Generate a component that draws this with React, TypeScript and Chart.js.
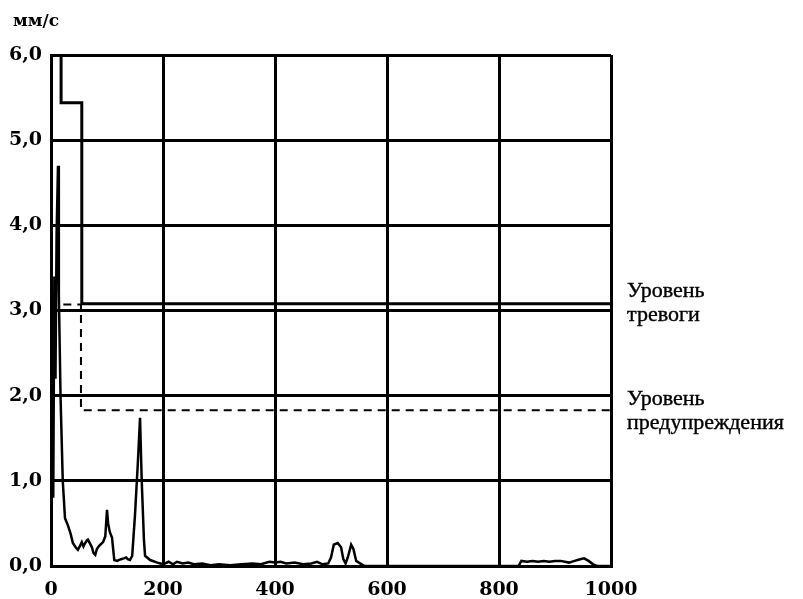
import React, { useEffect, useRef } from "react";
import { Chart, registerables } from "chart.js";

Chart.register(...registerables);

// X axis ticks (Гц) and Y axis ticks (мм/с)
const xTickValues = [0, 200, 400, 600, 800, 1000];
const yTickValues = [0, 1, 2, 3, 4, 5, 6];

// Spectrum curve
const spectrumX = [
  0, 2, 4, 6, 8, 10, 12.5, 14, 17, 21, 25, 30, 35, 39, 44, 48, 52, 55, 58, 61, 64, 66, 70, 73, 76, 79,
  82, 84, 88, 93, 97, 100, 102, 105, 109, 113, 118, 125, 130, 134, 137, 141, 145, 150, 155, 159, 162,
  166, 168, 177, 190, 200, 210, 218, 225, 235, 245, 255, 270, 285, 300, 320, 340, 360, 375, 390, 400,
  410, 420, 435, 450, 465, 475, 485, 495, 500, 505, 512, 518, 522, 526, 530, 536, 540, 545, 552, 560,
  600, 700, 800, 835, 840, 850, 860, 870, 880, 890, 900, 910, 925, 935, 945, 952, 960, 968, 975, 1000,
];
const spectrumY = [
  0.05, 2.9, 0.8, 3.4, 2.2, 3.9, 4.7, 3.2, 2.0, 1.0, 0.56, 0.48, 0.38, 0.27, 0.22, 0.19, 0.24, 0.28,
  0.23, 0.27, 0.3, 0.31, 0.26, 0.22, 0.15, 0.13, 0.2, 0.22, 0.25, 0.28, 0.35, 0.66, 0.5, 0.4, 0.33,
  0.07, 0.06, 0.08, 0.09, 0.1, 0.08, 0.07, 0.12, 0.6, 1.2, 1.74, 1.0, 0.3, 0.12, 0.07, 0.04, 0.02,
  0.05, 0.02, 0.05, 0.03, 0.04, 0.02, 0.03, 0.01, 0.02, 0.01, 0.02, 0.03, 0.02, 0.05, 0.04, 0.05,
  0.03, 0.04, 0.02, 0.03, 0.05, 0.02, 0.03, 0.1, 0.25, 0.27, 0.22, 0.08, 0.03, 0.1, 0.25, 0.2, 0.06,
  0.03, 0.0, 0.0, 0.0, 0.0, 0.0, 0.06, 0.05, 0.06, 0.05, 0.06, 0.05, 0.06, 0.06, 0.04, 0.06, 0.08,
  0.09, 0.06, 0.02, 0.0, 0.0,
];

// Alarm level (solid step line)
const alarmX = [18, 18, 55, 55, 1000];
const alarmY = [6.0, 5.44, 5.44, 3.08, 3.08];

// Warning level (dashed step line)
const warningX = [22, 53.5, 53.5, 1000];
const warningY = [3.07, 3.07, 1.83, 1.83];

const toPoints = (xs: number[], ys: number[]) => xs.map((x, i) => ({ x, y: ys[i] }));

const SERIF = "'Liberation Serif', 'Times New Roman', serif";
const TICK_FONT = "'DejaVu Serif', serif";

export default function App() {
  const canvasRef = useRef<HTMLCanvasElement | null>(null);

  useEffect(() => {
    document.body.style.margin = "0";
    const canvas = canvasRef.current;
    if (!canvas) return;
    const chart = new Chart(canvas, {
      type: "line",
      data: {
        datasets: [
          {
            label: "Спектр",
            data: toPoints(spectrumX, spectrumY),
            borderColor: "#000",
            borderWidth: 2.5,
            pointRadius: 0,
            tension: 0,
            fill: false,
          },
          {
            label: "Уровень тревоги",
            data: toPoints(alarmX, alarmY),
            borderColor: "#000",
            borderWidth: 3,
            pointRadius: 0,
            tension: 0,
            fill: false,
          },
          {
            label: "Уровень предупреждения",
            data: toPoints(warningX, warningY),
            borderColor: "#000",
            borderWidth: 2,
            borderDash: [8, 6],
            pointRadius: 0,
            tension: 0,
            fill: false,
          },
        ],
      },
      options: {
        animation: false,
        responsive: true,
        maintainAspectRatio: false,
        layout: { padding: { top: 55, right: 192, left: 0, bottom: 0 } },
        plugins: {
          legend: { display: false },
          tooltip: { enabled: false },
        },
        scales: {
          x: {
            type: "linear",
            min: 0,
            max: 1000,
            afterFit: (scale: any) => {
              scale.height = 33;
            },
            afterBuildTicks: (scale: any) => {
              scale.ticks = xTickValues.map((v) => ({ value: v }));
            },
            ticks: {
              color: "#000",
              font: { family: TICK_FONT, size: 19, weight: "bold" },
              padding: 13,
              maxRotation: 0,
              autoSkip: false,
              callback: (v: any) => String(v),
            },
            grid: { color: "#000", lineWidth: 3, drawTicks: false },
            border: { color: "#000", width: 3 },
          },
          y: {
            type: "linear",
            min: 0,
            max: 6,
            afterFit: (scale: any) => {
              scale.width = 51;
            },
            afterBuildTicks: (scale: any) => {
              scale.ticks = yTickValues.map((v) => ({ value: v }));
            },
            ticks: {
              color: "#000",
              font: { family: TICK_FONT, size: 19, weight: "bold" },
              padding: 9,
              autoSkip: false,
              callback: (v: any) => Number(v).toFixed(1).replace(".", ","),
            },
            grid: { color: "#000", lineWidth: 3, drawTicks: false },
            border: { color: "#000", width: 3 },
          },
        },
      },
    });
    return () => chart.destroy();
  }, []);

  const labelStyle: React.CSSProperties = {
    position: "absolute",
    left: 627,
    fontFamily: SERIF,
    fontSize: 22,
    lineHeight: "24px",
    color: "#000",
    whiteSpace: "nowrap",
    WebkitTextStroke: "0.4px #000",
  };

  return (
    <div style={{ position: "absolute", left: 0, top: 0, width: 803, height: 599, background: "#fff" }}>
      <canvas ref={canvasRef} width={803} height={599} />
      <div
        style={{
          position: "absolute",
          left: 13,
          top: 10,
          fontFamily: TICK_FONT,
          fontWeight: "bold",
          fontSize: 17,
          color: "#000",
        }}
      >
        мм/с
      </div>
      <div style={{ ...labelStyle, top: 278 }}>
        Уровень
        <br />
        тревоги
      </div>
      <div style={{ ...labelStyle, top: 386 }}>
        Уровень
        <br />
        предупреждения
      </div>
    </div>
  );
}
